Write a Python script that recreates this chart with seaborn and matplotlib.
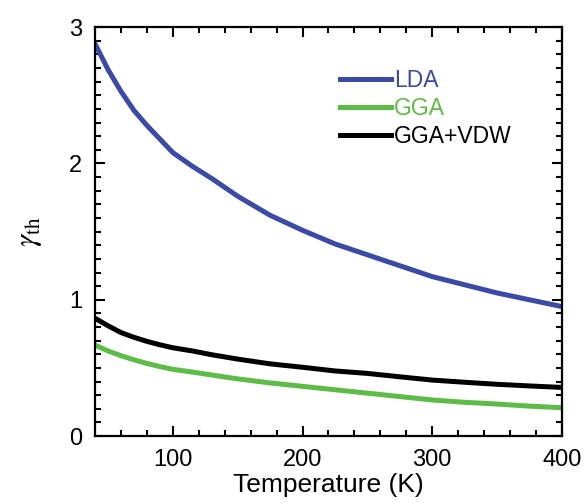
import pandas as pd
import seaborn as sns
import matplotlib.pyplot as plt
from matplotlib.ticker import MultipleLocator

# values
temperature = [40, 50, 60, 70, 80, 90, 100, 115, 130, 150, 175, 200,
               225, 250, 275, 300, 325, 350, 375, 400]
lda = [2.88, 2.69, 2.53, 2.39, 2.28, 2.18, 2.08, 1.98, 1.89, 1.76, 1.62, 1.51,
       1.41, 1.33, 1.25, 1.17, 1.11, 1.05, 1.00, 0.95]
gga = [0.668, 0.625, 0.59, 0.56, 0.533, 0.51, 0.49, 0.47, 0.448, 0.42, 0.39, 0.365,
       0.34, 0.315, 0.29, 0.265, 0.248, 0.235, 0.22, 0.208]
gga_vdw = [0.865, 0.81, 0.76, 0.725, 0.695, 0.67, 0.648, 0.625, 0.597, 0.565, 0.53, 0.505,
           0.478, 0.46, 0.435, 0.411, 0.395, 0.38, 0.368, 0.357]

series = ["LDA", "GGA", "GGA+VDW"]
colors = ["#3a4aa6", "#5dbb47", "#000000"]

df = pd.concat([
    pd.DataFrame({"T": temperature, "gamma": vals, "method": name})
    for name, vals in zip(series, [lda, gga, gga_vdw])
])

plt.rcParams["font.family"] = ["Liberation Sans", "DejaVu Sans"]
plt.rcParams["mathtext.fontset"] = "stix"
plt.rcParams.update({
    "axes.linewidth": 1.6,
    "xtick.direction": "in", "ytick.direction": "in",
    "xtick.top": True, "ytick.right": True,
    "xtick.major.size": 7, "ytick.major.size": 7,
    "xtick.minor.size": 4, "ytick.minor.size": 4,
    "xtick.major.width": 1.5, "ytick.major.width": 1.5,
    "xtick.minor.width": 1.5, "ytick.minor.width": 1.5,
})

fig = plt.figure(figsize=(5.86, 5.03), dpi=100)
ax = fig.add_axes([0.162, 0.133, 0.797, 0.813])

sns.lineplot(data=df, x="T", y="gamma", hue="method", hue_order=series,
             palette=colors, linewidth=3.6, ax=ax)

ax.set_xlim(40, 400)
ax.set_ylim(0, 3)
ax.xaxis.set_major_locator(MultipleLocator(100))
ax.xaxis.set_minor_locator(MultipleLocator(20))
ax.yaxis.set_major_locator(MultipleLocator(1))
ax.yaxis.set_minor_locator(MultipleLocator(0.1))
ax.tick_params(which="both", labelsize=17, pad=9)

ax.set_xlabel("Temperature (K)", fontsize=19, labelpad=2)
ax.set_ylabel(r"$\gamma_{\rm th}$", fontsize=22, labelpad=18)

ax.legend(loc="upper left", bbox_to_anchor=(0.525, 0.898), frameon=False,
          fontsize=16.5, handlelength=2.2, handletextpad=0.15,
          labelspacing=0.22, borderpad=0, borderaxespad=0,
          labelcolor="linecolor")

fig.savefig("out.png", dpi=100)
